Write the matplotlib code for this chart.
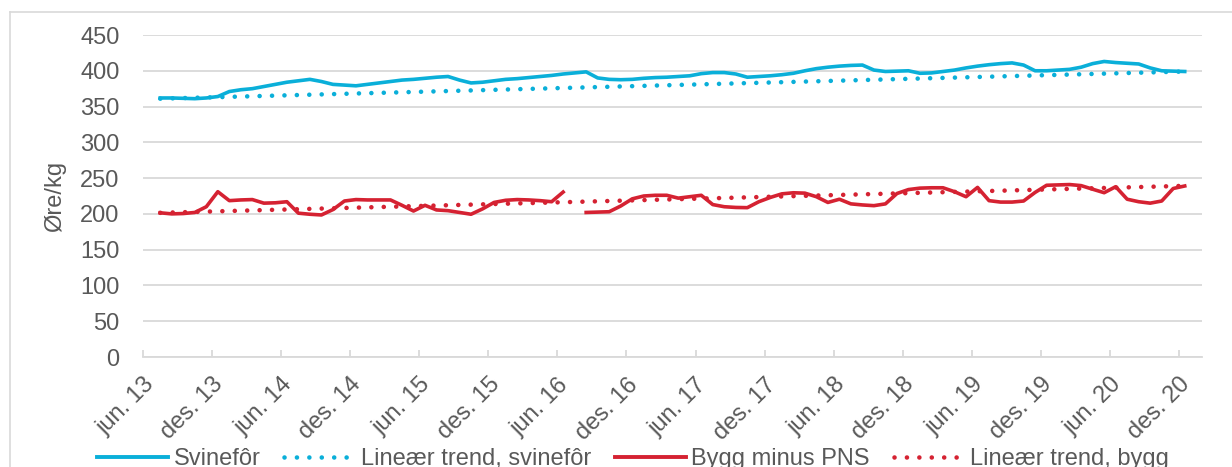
import numpy as np
import matplotlib
matplotlib.use("Agg")
import matplotlib.pyplot as plt
from matplotlib.lines import Line2D

plt.rcParams['font.family'] = ['Liberation Sans', 'DejaVu Sans']

# Månedlige priser, juli 2013 - desember 2020 (øre/kg)
svinefor = [
    362, 362, 361.5, 361, 362, 364, 371, 373.5, 375, 378,
    381, 384, 386, 388, 385, 381, 380, 379, 381, 383,
    385, 387, 388, 389.5, 391, 392, 387, 383, 384, 386,
    388, 389, 390.5, 392, 393.5, 395.5, 397, 398.5, 390, 388,
    387.5, 388, 389.5, 390.5, 391, 392, 393, 396, 397.5, 397.5,
    395.5, 391, 392, 393, 394.5, 396.5, 400, 403, 405, 406.5,
    407.5, 408, 401, 399, 399.5, 400, 396.5, 397, 399, 401,
    404, 406.5, 408.5, 410, 411, 408, 400, 400, 401, 402,
    405, 410, 413, 411.5, 410.5, 409.5, 404, 400, 399.5, 399,
]
bygg = [
    201.5, 200, 200.5, 202, 210, 231, 218.5, 219.5, 220, 215,
    215.5, 217, 201, 199.5, 198.5, 206, 218, 220, 219.5, 219.5,
    219.5, 212, 204, 212, 205.5, 204.5, 202, 199.5, 207, 216,
    219, 220, 219.5, 218.5, 217, 230.5, np.nan, 202, 202.5, 203,
    211, 221, 225, 226, 226, 222, 224, 226, 213, 210,
    209, 208.7, 217, 223, 228, 229.5, 229, 224, 216, 220.5,
    214, 212.5, 211.5, 214, 228.5, 234, 236, 236.5, 236.5, 231,
    224, 237, 218.5, 216.5, 216.5, 218, 230, 240, 240.5, 241,
    239.5, 234.5, 229.6, 238, 220.5, 217, 215, 218, 235.5, 239,
]
# Trendlinjer: verdi ved første og siste måned
trend_svinefor = [361, 399]
trend_bygg = [201.5, 239.2]

tick_labels = ["jun. 13", "des. 13", "jun. 14", "des. 14", "jun. 15", "des. 15",
               "jun. 16", "des. 16", "jun. 17", "des. 17", "jun. 18", "des. 18",
               "jun. 19", "des. 19", "jun. 20", "des. 20"]

blue = '#0AAFD9'
red = '#D52232'
grey_txt = '#595959'
grid_c = '#D9D9D9'
fs = 17

# måned 0 = juni 2013, punktene ligger midt i måneden
x = np.arange(len(svinefor)) + 1.5
x_trend = [x[0], x[-1]]

fig = plt.figure(figsize=(12.32, 4.67), dpi=100)
ax = fig.add_axes([143 / 1232, 1 - 357 / 467, (1202 - 143) / 1232, (357 - 35) / 467])

dots = (0, (0.01, 2.7))
ax.plot(x, svinefor, color=blue, lw=2.6, solid_joinstyle='round', zorder=3)
ax.plot(x_trend, trend_svinefor, color=blue, lw=3.3, linestyle=dots,
        dash_capstyle='round', zorder=2)
ax.plot(x, bygg, color=red, lw=2.6, solid_joinstyle='round', zorder=3)
ax.plot(x_trend, trend_bygg, color=red, lw=3.3, linestyle=dots,
        dash_capstyle='round', zorder=2)

ax.set_xlim(0, 92)
ax.set_ylim(0, 450)
ax.set_yticks(np.arange(0, 451, 50))
ax.grid(axis='y', color=grid_c, lw=1.3)
ax.set_axisbelow(True)
for side in ['top', 'right', 'left']:
    ax.spines[side].set_visible(False)
ax.spines['bottom'].set_color(grid_c)
ax.spines['bottom'].set_linewidth(1.3)

ax.set_xticks(np.arange(0, 91, 6))
ax.set_xticklabels(tick_labels, rotation=45, ha='right', va='top',
                   rotation_mode='anchor')
ax.tick_params(axis='x', direction='in', length=5, width=1.3, color=grid_c,
               labelsize=fs, labelcolor=grey_txt, pad=12)
ax.tick_params(axis='y', length=0, labelsize=fs, labelcolor=grey_txt, pad=17)
ax.set_ylabel('Øre/kg', fontsize=fs, color=grey_txt, labelpad=10)

handles = [
    Line2D([], [], color=blue, lw=2.8),
    Line2D([], [], color=blue, lw=3.3, linestyle=dots, dash_capstyle='round'),
    Line2D([], [], color=red, lw=2.8),
    Line2D([], [], color=red, lw=3.3, linestyle=dots, dash_capstyle='round'),
]
labels = ['Svinefôr', 'Lineær trend, svinefôr', 'Bygg minus PNS', 'Lineær trend, bygg']
leg = fig.legend(handles, labels, ncol=4, loc='center', bbox_to_anchor=(633 / 1232, 1 - 459 / 467),
                 frameon=False, fontsize=fs, handlelength=3.0, handletextpad=0.25,
                 columnspacing=1.0, labelcolor=grey_txt)

# ramme rundt diagrammet
fig.add_artist(Line2D([10 / 1232, 10 / 1232], [0, 1 - 12 / 467], color=grid_c, lw=1.2))
fig.add_artist(Line2D([10 / 1232, 1], [1 - 12 / 467, 1 - 12 / 467], color=grid_c, lw=1.2))

fig.savefig('out.png', dpi=100)
